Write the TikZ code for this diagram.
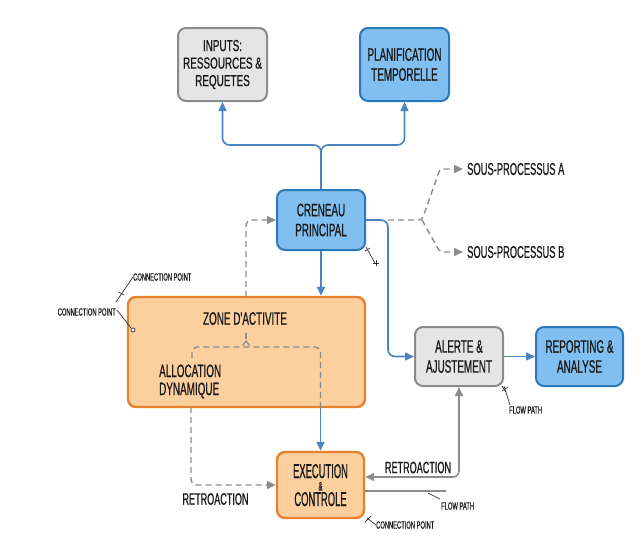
\documentclass[tikz,border=0pt]{standalone}
\usepackage{fontspec}
\setmainfont{Liberation Sans}
\newfontfamily\cf{Liberation Sans}[FakeStretch=0.55,FakeBold=0.7]
\newfontfamily\cfw{Liberation Sans}[FakeStretch=0.62,FakeBold=0.7]
\newfontfamily\cfn{Liberation Sans}[FakeStretch=0.47,FakeBold=0.7]
\newfontfamily\cfs{Liberation Sans}[FakeStretch=0.55,FakeBold=0.4]
\usetikzlibrary{arrows.meta}
\definecolor{bfill}{HTML}{80BFEF}
\definecolor{bdraw}{HTML}{2C78BC}
\definecolor{gfill}{HTML}{E5E5E5}
\definecolor{gdraw}{HTML}{8A8A8A}
\definecolor{ofill}{HTML}{FCCF9F}
\definecolor{odraw}{HTML}{E8812D}
\definecolor{barrow}{HTML}{4A85BE}
\definecolor{garrow}{HTML}{8C8C8C}
\definecolor{txt}{HTML}{1A1A1A}
\begin{document}
\begin{tikzpicture}[x=1pt,y=-1pt,
  box/.style={rounded corners=8pt, line width=2pt, align=center, inner sep=0pt, text=txt, font=\cf\fontsize{18}{20}\selectfont},
  bluebox/.style={box, fill=bfill, draw=bdraw},
  graybox/.style={box, fill=gfill, draw=gdraw},
  orangebox/.style={box, fill=ofill, draw=odraw, line width=2.4pt},
  lbl/.style={text=txt, inner sep=0pt, font=\cf\fontsize{17}{19}\selectfont},
  small/.style={text=txt, inner sep=0pt, font=\cfs\fontsize{10.5}{12}\selectfont},
  barr/.style={draw=barrow, line width=1.6pt, -{Triangle[length=9pt,width=8pt]}},
  garr/.style={draw=garrow, line width=1.6pt, {Triangle[length=9pt,width=8pt]}-{Triangle[length=9pt,width=8pt]}},
  gline/.style={draw=garrow, line width=1.6pt},
  gdash/.style={draw=garrow, line width=1.4pt, dash pattern=on 6pt off 4pt},
  gdasharr/.style={gdash, -{Triangle[length=9pt,width=8pt]}},
  anno/.style={draw=black!80, line width=0.7pt}
]
\useasboundingbox[fill=white] (0,0) rectangle (642,542);

% boxes
\node[graybox, minimum width=89pt, minimum height=73pt, font=\cfw\fontsize{16}{17.5}\selectfont] (inputs) at (222.5,64.5) {INPUTS:\\RESSOURCES \&\\REQUETES};
\node[bluebox, minimum width=89pt, minimum height=73pt] (planif) at (404.5,64.5) {PLANIFICATION\\TEMPORELLE};
\node[bluebox, minimum width=88pt, minimum height=60pt] (cren) at (321,220) {CRENEAU\\PRINCIPAL};
\node[orangebox, minimum width=237pt, minimum height=110pt] (zone) at (246.5,352) {};
\node[graybox, minimum width=88pt, minimum height=59pt] (alerte) at (459,356.5) {ALERTE \&\\AJUSTEMENT};
\node[bluebox, minimum width=87pt, minimum height=59pt] (report) at (579.5,356.5) {REPORTING \&\\ANALYSE};
\node[orangebox, minimum width=87pt, minimum height=66pt] (exec) at (320.5,485) {};
\node[lbl, font=\cfn\fontsize{20}{20}\selectfont] (exect) at (320.5,488) {\begin{tabular}{@{}c@{}}EXECUTION\\[-7.5pt]{\fontsize{12.5}{12}\selectfont\&}\\[-4.5pt]CONTROLE\end{tabular}};

% texts in zone
\node[lbl, font=\cf\fontsize{18}{20}\selectfont] (zonet) at (245,318.5) {ZONE D'ACTIVITE};
\node[lbl, anchor=west, align=left, font=\cf\fontsize{18}{18}\selectfont] (alloc) at (159,381.5) {ALLOCATION\\DYNAMIQUE};

% coordinates
\coordinate (fork) at (321,145);
\coordinate (split) at (388,220);
\coordinate (fork2) at (422,220);
\coordinate (ua) at (440,169);
\coordinate (lb) at (440,252);
\coordinate (zl) at (191,407);
\coordinate (zt) at (246,297);
\coordinate (bl) at (192,358);
\coordinate (br) at (320.5,347);
\coordinate (fpend) at (446,491);

% labels
\node[lbl, anchor=west] (sousa) at (467,169) {SOUS-PROCESSUS A};
\node[lbl, anchor=west] (sousb) at (467,252) {SOUS-PROCESSUS B};
\node[lbl, font=\cf\fontsize{16.5}{18}\selectfont] (retl) at (215.5,499) {RETROACTION};
\node[lbl, font=\cf\fontsize{16.5}{18}\selectfont] (retr) at (418,467.5) {RETROACTION};

% blue connectors
\draw[barr, rounded corners=7pt] (cren.north) -- (fork) -| (inputs.south);
\draw[barr, rounded corners=7pt] (cren.north) -- (fork) -| (planif.south);
\draw[barr] (cren.south) -- (zone.north -| cren.south);
\draw[barr] (zone.south -| exec.north) -- (exec.north);
\draw[barr, rounded corners=7pt] (cren.east) -- (split) |- (alerte.west);
\draw[barr] (alerte.east) -- (report.west);

% dashed connectors
\draw[gdasharr, rounded corners=3pt] (split) -- (fork2) -- (ua) -- ([xshift=-4pt]sousa.west);
\draw[gdasharr, rounded corners=3pt] (fork2) -- (lb) -- ([xshift=-4pt]sousb.west);
\draw[gdasharr, rounded corners=6pt] (zl) |- (exec.west);
\draw[gdasharr, rounded corners=6pt] (zt) |- (cren.west);
\draw[gdash, rounded corners=5pt] (bl) |- (br) -- (br |- zone.south);
\draw[gdash] (246,339) -- (246,331);
\draw[draw=garrow, line width=1.2pt] (242.5,345.5) -- (246,341) -- (249.5,345.5);

% gray connectors
\draw[garr, rounded corners=6pt] (alerte.south) |- ([yshift=8pt]exec.east);
\draw[gline] (fpend -| exec.east) -- (fpend);

% annotations
\node[small, anchor=west] (cp1) at (133,277) {CONNECTION POINT};
\node[small, anchor=east] (cp2) at (116,312) {CONNECTION POINT};
\node[small, anchor=west] (cp3) at (376,525) {CONNECTION POINT};
\node[small, anchor=west] (fp1) at (509,410) {FLOW PATH};
\node[small, anchor=west] (fp2) at (441,506) {FLOW PATH};

\draw[anno] (cp1.west) -- (116,302);
\draw[anno] (118.5,292) -- (124,295);
\draw[anno] (cp2.east) ++(1,-2) -- (131,328);
\draw[anno, fill=white] (133,330) circle (2pt);
\draw[anno] (fp2.north west) ++(-1,-3) -- (428,493);
\draw[anno] (fp1.north west) ++(1,-1) -- (504,386);
\draw[anno] (502,391) -- (508,387);
\draw[anno] (502,386) -- (506,392);
\draw[anno] (cp3.west) -- (367,518);
\draw[anno] (365,522) -- (371,516);
\draw[anno] (366,247) -- (375,263);
\draw[anno] (365,251) -- (370,248);
\draw[anno] (373,263) -- (379,263);
\draw[anno] (376,260) -- (376,266);
\end{tikzpicture}
\end{document}
